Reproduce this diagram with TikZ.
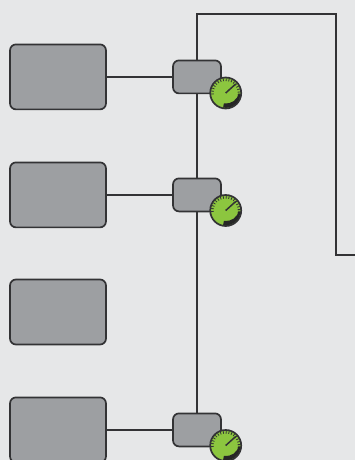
\documentclass[tikz,border=0pt]{standalone}
\definecolor{panelgray}{HTML}{E6E7E8}
\definecolor{boxgray}{HTML}{9D9FA2}
\definecolor{linegray}{HTML}{333335}
\definecolor{dialgreen}{HTML}{8CC63F}
\tikzset{
    rackbox/.style={draw=linegray, fill=boxgray, line width=0.34mm, rounded corners=1.2mm,
        minimum width=1.92cm, minimum height=1.3cm, inner sep=0pt},
    tapbox/.style={draw=linegray, fill=boxgray, line width=0.34mm, rounded corners=1.2mm,
        minimum width=0.96cm, minimum height=0.66cm, inner sep=0pt},
    dial/.style={circle, draw=linegray, fill=dialgreen, line width=0.34mm,
        minimum size=0.62cm, inner sep=0pt},
    wire/.style={draw=linegray, line width=0.38mm}
}
\begin{document}
\begin{tikzpicture}[x=0.02cm, y=-0.02cm]
    \useasboundingbox (0,0) rectangle (355,460);
    \clip (0,0) rectangle (355,460);
    \fill[panelgray] (0,0) rectangle (355,460);
    % left boxes
    \node[rackbox] (rackA) at (58,76.9) {};
    \node[rackbox] (rackB) at (58,194.9) {};
    \node[rackbox] (rackC) at (58,312) {};
    \node[rackbox] (rackD) at (58,429.9) {};
    % small boxes on the riser
    \node[tapbox] (tapA) at (197,76.9) {};
    \node[tapbox] (tapB) at (197,194.9) {};
    \node[tapbox] (tapD) at (197,429.9) {};
    \coordinate (topL) at (197,14);
    \coordinate (topR) at (336,14);
    \coordinate (bendR) at (336,255);
    \coordinate (exitR) at (355,255);
    \draw[wire] (rackA) -- (tapA);
    \draw[wire] (rackB) -- (tapB);
    \draw[wire] (rackD) -- (tapD);
    \draw[wire] (tapD) -- (tapB);
    \draw[wire] (tapB) -- (tapA);
    \draw[wire] (tapA) -- (topL) -- (topR) -- (bendR) -- (exitR);
    % gauges
    \foreach \name/\y in {A/93,B/210.5,D/445.5}
    {
        \node[dial] (dial\name) at (225.7,\y) {};
        \begin{scope}[shift={(dial\name.center)}, y=0.02cm]
            \foreach \a in {-8,4,...,184}
            \draw[linegray, line width=0.16mm] (\a:12) -- (\a:14.6);
            \fill[black!85] (-10:14.8) arc (-10:-100:14.8) -- (-100:10.5) arc (-100:-10:13) -- cycle;
            \draw[linegray, line width=0.3mm] (0,0) -- (42:13.5);
        \end{scope}
    }
\end{tikzpicture}
\end{document}
